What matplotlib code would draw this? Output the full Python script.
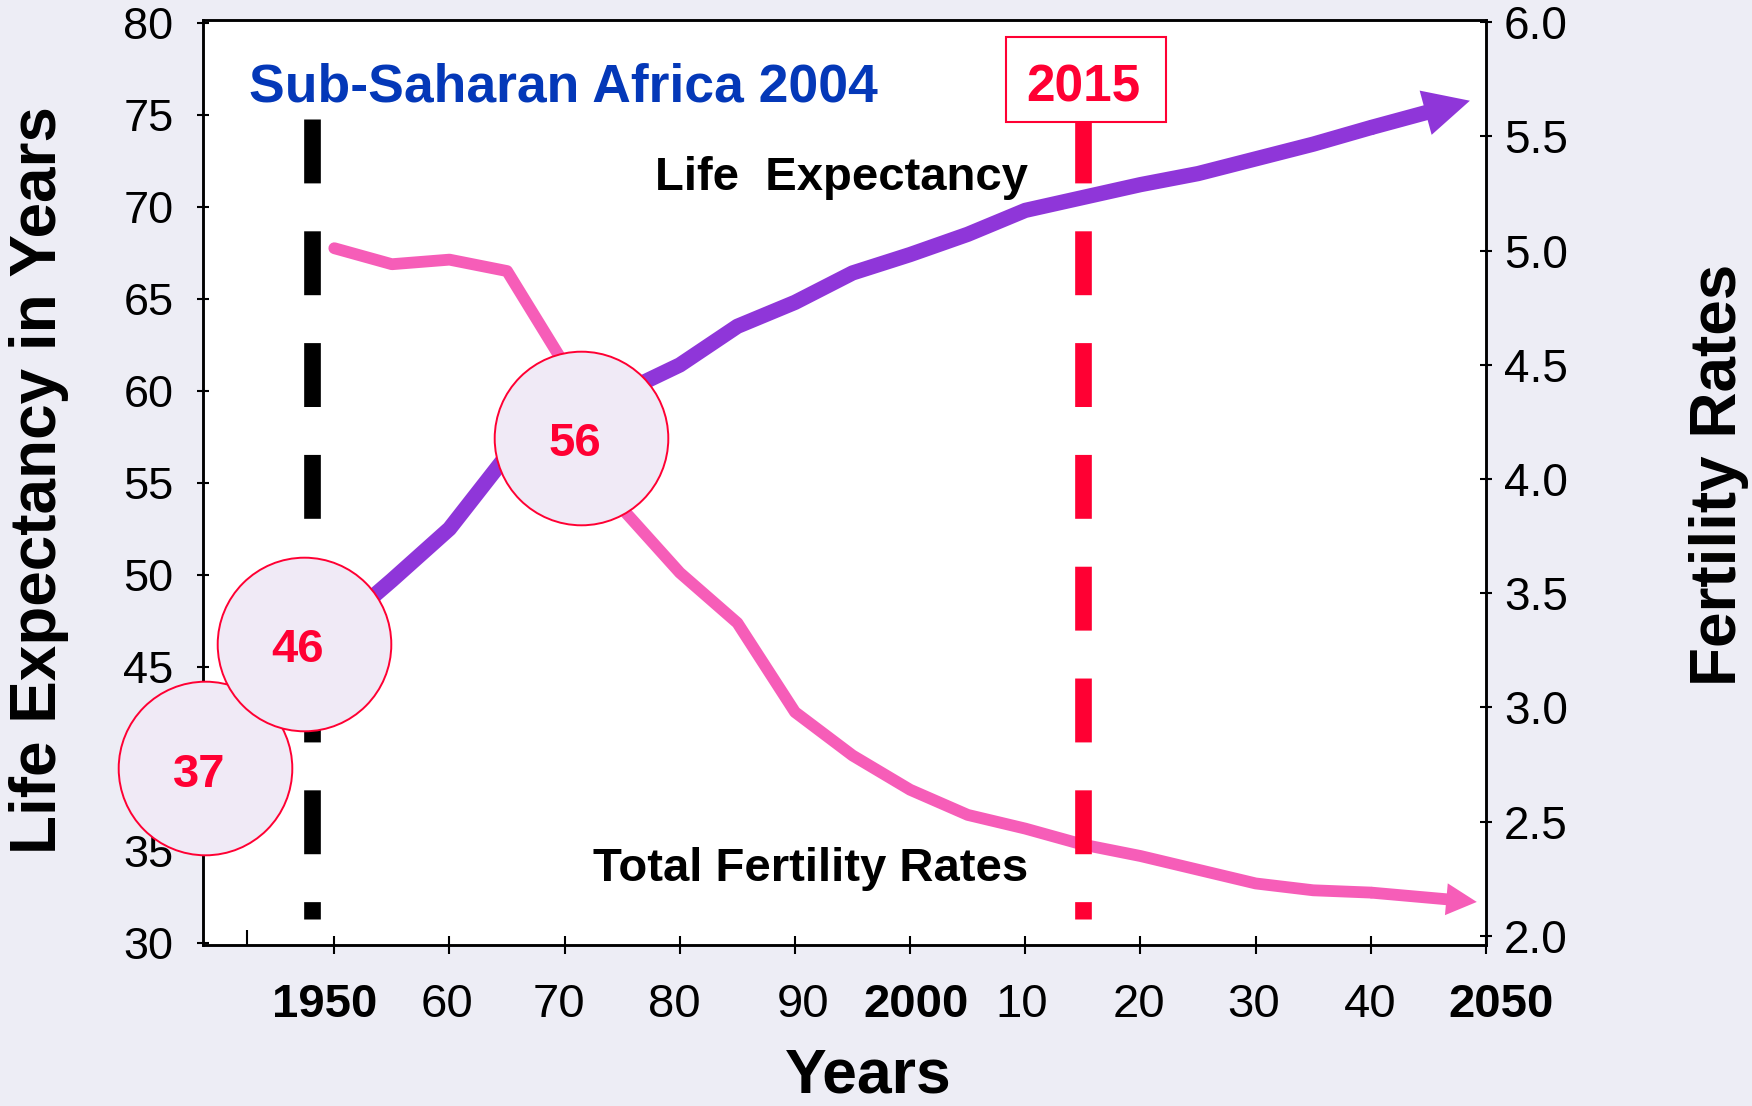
import matplotlib
matplotlib.use("Agg")
import matplotlib.pyplot as plt
from matplotlib.patches import FancyArrowPatch, ArrowStyle, Rectangle
from matplotlib.transforms import ScaledTranslation, blended_transform_factory

plt.rcParams['font.family'] = ['Liberation Sans', 'DejaVu Sans']
plt.rcParams['lines.scale_dashes'] = False

# ---------------- data ----------------
years = [1950, 1955, 1960, 1965, 1970, 1975, 1980, 1985, 1990, 1995,
         2000, 2005, 2010, 2015, 2020, 2025, 2030, 2035, 2040]
life_expectancy = [47.0, 49.7, 52.5, 56.5, 58.3, 59.9, 61.4, 63.5, 64.8, 66.4,
                   67.4, 68.5, 69.8, 70.5, 71.2, 71.8, 72.6, 73.4, 74.3]
life_tip = (2048.6, 75.76)          # arrow end of the life-expectancy line
fertility = [5.01, 4.94, 4.96, 4.91, 4.50, 3.87, 3.59, 3.37, 2.98, 2.79,
             2.64, 2.53, 2.47, 2.40, 2.35, 2.29, 2.23, 2.20, 2.19]
fert_tip = (2049.2, 2.149)          # arrow end of the fertility line

circle_labels = ['37', '46', '56']
circle_x = [1938.77, 1947.35, 1971.42]
circle_y = [39.47, 46.26, 57.43]

x_ticks = [1950, 1960, 1970, 1980, 1990, 2000, 2010, 2020, 2030, 2040, 2050]
x_ticklabels = ['1950', '60', '70', '80', '90', '2000', '10', '20', '30', '40', '2050']
bold_xlabels = {'1950', '2000', '2050'}
xlabel_shift_px = {'1950': -10, '60': -2, '70': -6, '80': -6, '90': 8, '2000': 6,
                   '10': -4, '20': -2, '30': -2, '40': -1, '2050': 15}
left_ticks = [30, 35, 40, 45, 50, 55, 60, 65, 70, 75, 80]
right_ticks = [2.0, 2.5, 3.0, 3.5, 4.0, 4.5, 5.0, 5.5, 6.0]

marker_years = [1948.1, 2015]       # vertical dashed reference lines
marker_span = (74.77, 31.29)

# ---------------- styles ----------------
BG = '#EDEDF5'
PURPLE = '#8F36D9'
PINK = '#F65DB8'
RED = '#FF0033'
BLUE = '#0438B8'
CIRCLE_FILL = '#F0EAF6'

fig = plt.figure(figsize=(17.52, 11.06), dpi=100, facecolor=BG)
ax1 = fig.add_axes([0.11587, 0.14557, 0.73231, 0.83635])
ax2 = ax1.twinx()
ax1.set_zorder(2)
ax2.set_zorder(1)
ax1.patch.set_visible(False)
ax2.patch.set_visible(True)
ax2.patch.set_facecolor('white')

# fertility line (right axis)
ax2.plot(years, fertility, color=PINK, lw=8.5, solid_capstyle='round',
         solid_joinstyle='round', zorder=3)
ax2.add_patch(FancyArrowPatch((years[-1], fertility[-1]), fert_tip,
                              arrowstyle=ArrowStyle.Simple(head_length=22, head_width=23, tail_width=8.5),
                              mutation_scale=1, color=PINK, lw=0, shrinkA=0, shrinkB=0,
                              zorder=3))

# vertical dashed lines
ax1.plot([marker_years[0]] * 2, marker_span, color='black', lw=12,
         linestyle=(0, (46, 34.5)), dash_capstyle='butt', zorder=2)
ax1.plot([marker_years[1]] * 2, marker_span, color=RED, lw=12,
         linestyle=(0, (46, 34.5)), dash_capstyle='butt', zorder=4)

# life expectancy line (left axis)
ax1.plot(years, life_expectancy, color=PURPLE, lw=11, solid_capstyle='round',
         solid_joinstyle='round', zorder=3)
ax1.add_patch(FancyArrowPatch((years[-1], life_expectancy[-1]), life_tip,
                              arrowstyle=ArrowStyle.Simple(head_length=33, head_width=33, tail_width=11),
                              mutation_scale=1, color=PURPLE, lw=0, shrinkA=0, shrinkB=0,
                              zorder=3))

# circles
ax1.scatter(circle_x, circle_y, s=125 ** 2, facecolor=CIRCLE_FILL, edgecolor=RED,
            linewidth=1.4, zorder=10, clip_on=False)
for lbl, cx, cy in zip(circle_labels, circle_x, circle_y):
    ax1.annotate(lbl, (cx, cy), xytext=(-4.3, -13.0), textcoords='offset points',
                 ha='center', va='baseline', fontsize=34, fontweight='bold',
                 color=RED, zorder=11, annotation_clip=False)

# limits and ticks
ax1.set_xlim(1938.6, 2050)
ax1.set_ylim(29.875, 80.147)
ax2.set_ylim(1.9606, 6.0088)

ax1.set_xticks(x_ticks)
ax1.set_xticklabels(x_ticklabels)
ax1.set_xticks([1942.45], minor=True)
ax1.tick_params(axis='x', which='major', direction='inout', length=13, width=1.5,
                pad=21, labelsize=34)
ax1.tick_params(axis='x', which='minor', direction='in', length=11, width=1.5)
ax1.set_yticks(left_ticks)
ax1.tick_params(axis='y', direction='inout', length=8.6, width=1.5, pad=17,
                labelsize=32.5)
ax2.set_yticks(right_ticks)
ax2.set_yticklabels([f'{v:.1f}' for v in right_ticks])
ax2.tick_params(axis='y', direction='inout', length=8.6, width=1.5, pad=8.6,
                labelsize=33)

for t in ax1.get_xticklabels():
    txt = t.get_text()
    if txt in bold_xlabels:
        t.set_fontweight('bold')
    dx = xlabel_shift_px.get(txt, 0) / 100.0
    t.set_transform(t.get_transform() + ScaledTranslation(dx, 0, fig.dpi_scale_trans))

for ax in (ax1, ax2):
    for sp in ax.spines.values():
        sp.set_linewidth(1.8)
        sp.set_color('black')

# texts
ax1.text(0.0362, 0.9117, 'Sub-Saharan Africa 2004', transform=ax1.transAxes,
         fontsize=38.5, fontweight='bold', color=BLUE, ha='left', va='baseline')
ax1.text(0.643, 0.8162, 'Life  Expectancy', transform=ax1.transAxes,
         fontsize=34, fontweight='bold', color='black', ha='right', va='baseline')
ax1.text(0.643, 0.069, 'Total Fertility Rates', transform=ax1.transAxes,
         fontsize=34, fontweight='bold', color='black', ha='right', va='baseline')

# 2015 label box
ax1.add_patch(Rectangle((0.6259, 0.8897), 0.1247, 0.0919, transform=ax1.transAxes,
                        facecolor='white', edgecolor=RED, lw=1.5, zorder=12))
ax1.text(2015, 0.9124, '2015', transform=blended_transform_factory(ax1.transData, ax1.transAxes),
         fontsize=37, fontweight='bold', color=RED, ha='center', va='baseline', zorder=13)

fig.text(0.0223, 0.566, 'Life Expectancy in Years', rotation=90, fontsize=46,
         fontweight='bold', ha='center', va='center')
fig.text(0.981, 0.571, 'Fertility Rates', rotation=90, fontsize=46,
         fontweight='bold', ha='center', va='center')
fig.text(0.4955, 0.0125, 'Years', fontsize=45, fontweight='bold',
         ha='center', va='baseline')

fig.savefig('out.png', dpi=100, facecolor=fig.get_facecolor())
